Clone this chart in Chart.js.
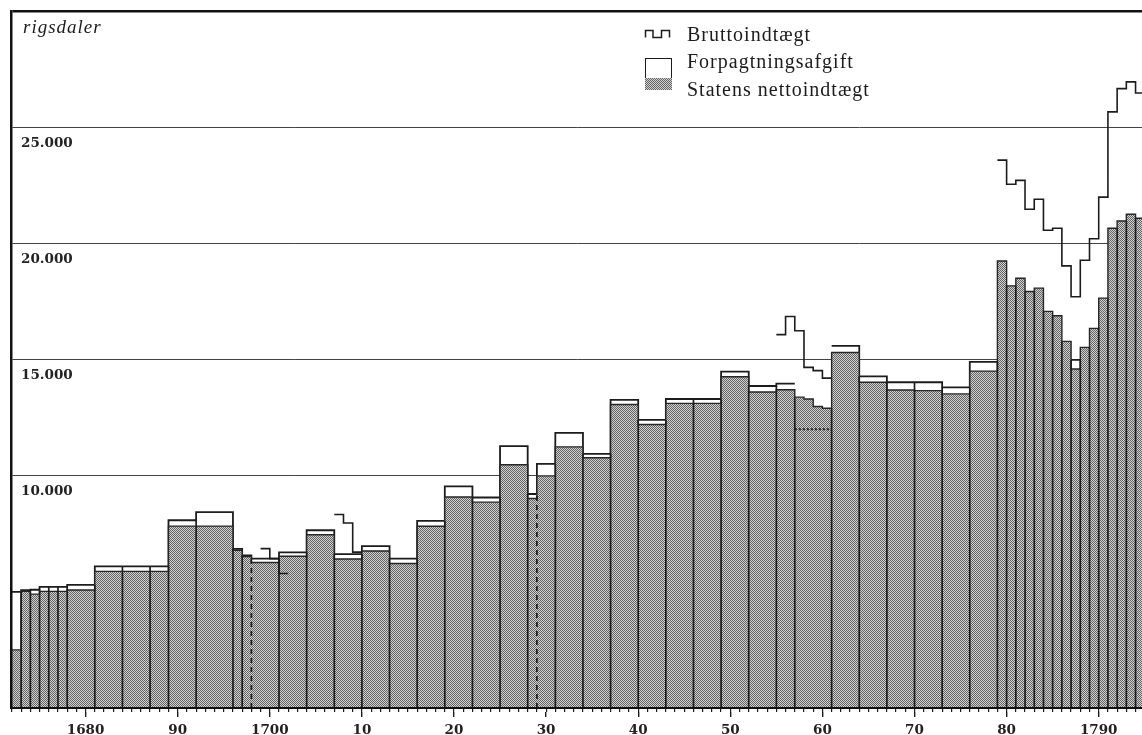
<!DOCTYPE html>
<html lang="da">
<head>
<meta charset="utf-8">
<title>Forpagtningsafgift og statens nettoindtægt</title>
<script src="https://cdn.jsdelivr.net/npm/chart.js@4.4.1/dist/chart.umd.min.js"></script>
<style>
  html, body { margin: 0; padding: 0; background: #fff; }
  #ramme { position: relative; width: 1142px; height: 735px; overflow: hidden; }
  #ramme canvas { position: absolute; left: 0; top: 0; }
  .tekst { position: absolute; font-family: "Liberation Serif", serif; color: #1c1c1c; line-height: 1; white-space: nowrap; }
  .leg { font-size: 20px; letter-spacing: 1px; left: 687px; }
  #enhed { left: 23px; top: 17px; font-size: 19px; font-style: italic; letter-spacing: 1px; }
  .boks { position: absolute; left: 645px; width: 27px; box-sizing: border-box; }
  #hvidBoks { top: 58px; height: 21px; border: 1.5px solid #1c1c1c; background: #fff; }
  #graaBoks { top: 78px; height: 12px; background: repeating-conic-gradient(#666 0 25%, #cfcfcf 0 50%) 0 0 / 2px 2px; }
  #trinTegn { position: absolute; left: 644px; top: 29px; }
</style>
</head>
<body>
<div id="ramme">
  <canvas id="diagram" width="1142" height="735"></canvas>
  <div class="tekst" id="enhed">rigsdaler</div>
  <svg id="trinTegn" width="28" height="10" viewBox="0 0 28 10">
    <path d="M1.5 8.5 V1.5 H9 V8.5 H17.5 V1.5 H25.5 V8.5" fill="none" stroke="#1c1c1c" stroke-width="1.5"/>
  </svg>
  <div class="tekst leg" style="top:24px">Bruttoindtægt</div>
  <div class="boks" id="hvidBoks"></div>
  <div class="boks" id="graaBoks"></div>
  <div class="tekst leg" style="top:51px">Forpagtningsafgift</div>
  <div class="tekst leg" style="top:79px">Statens nettoindtægt</div>
</div>
<script>
// perioder (startår); sidste periode slutter i periodeSlut
var periodeStart = [1672, 1673, 1674, 1675, 1676, 1677, 1678, 1681, 1684, 1687, 1689, 1692,
	1696, 1697, 1698, 1701, 1704, 1707, 1710, 1713, 1716, 1719, 1722, 1725,
	1728, 1729, 1731, 1734, 1737, 1740, 1743, 1746, 1749, 1752, 1755,
	1757, 1758, 1759, 1760, 1761, 1764, 1767, 1770, 1773, 1776,
	1779, 1780, 1781, 1782, 1783, 1784, 1785, 1786, 1787, 1788, 1789, 1790, 1791, 1792, 1793, 1794];
var periodeSlut = 1795;

// rigsdaler
var forpagtningsafgift = [5000, 5070, 5090, 5210, 5210, 5210, 5300, 6100, 6100, 6100, 8080, 8430,
	6850, 6570, 6430, 6700, 7650, 6620, 6970, 6430, 8050, 9540, 9060, 11270,
	9210, 10510, 11840, 10940, 13260, 12400, 13300, 13300, 14480, 13860, 13960,
	null, null, null, null, 15590, 14270, 14020, 14020, 13800, 14900,
	null, null, null, null, null, null, null, null, 14980, null, null, null, null, null, null, null];
var nettoindtaegt = [2500, 5020, 4900, 5020, 5020, 5020, 5080, 5880, 5880, 5880, 7830, 7830,
	6790, 6520, 6260, 6530, 7460, 6410, 6760, 6220, 7820, 9080, 8860, 10470,
	9020, 9990, 11240, 10770, 13060, 12200, 13110, 13110, 14260, 13600, 13700,
	13380, 13300, 12980, 12900, 15300, 14020, 13690, 13660, 13520, 14500,
	19240, 18170, 18500, 17930, 18070, 17070, 16880, 15780, 14590, 15520, 16340, 17640, 20650, 20960, 21250, 21080];

// bruttoindtægt, kun kendt for enkelte år
var bruttoAar = [1699, 1700, 1701, 1707, 1708, 1709, 1755, 1756, 1757, 1758, 1759, 1760,
	1779, 1780, 1781, 1782, 1783, 1784, 1785, 1786, 1787, 1788, 1789, 1790, 1791, 1792, 1793, 1794];
var bruttoindtaegt = [6860, 6430, 5790, 8330, 7960, 6710, 16070, 16850, 16240, 14660, 14520, 14200,
	23580, 22540, 22710, 21470, 21900, 20560, 20650, 19030, 17700, 19270, 20200, 21990, 25660, 26660, 26950, 26470];

// prikket linje i perioden 1757-61
var prikLinjeAar = [1757, 1761];
var prikLinjeVaerdi = 12000;

var stipledeSkel = [1698, 1729];
var udenSkel = [1758, 1759, 1760];

var aartiTicks = [1680, 1690, 1700, 1710, 1720, 1730, 1740, 1750, 1760, 1770, 1780, 1790];
var aartiEtiketter = ['1680', '90', '1700', '10', '20', '30', '40', '50', '60', '70', '80', '1790'];
var yTicks = [10000, 15000, 20000, 25000, 30000];

var xMin = 1671.9, xMax = 1794.7;

var periodeEnde = periodeStart.slice(1).concat([periodeSlut]);

function trinPunkter(starts, ends, values) {
	var pts = [];
	for (var i = 0; i < starts.length; i++) {
		if (values[i] == null) { pts.push({x: starts[i], y: null}); continue; }
		pts.push({x: starts[i], y: values[i]});
		pts.push({x: ends[i], y: values[i]});
		if (i + 1 < starts.length && starts[i + 1] !== ends[i]) pts.push({x: ends[i], y: null});
	}
	return pts;
}

function bjaelkeTop(i) {
	return forpagtningsafgift[i] != null ? forpagtningsafgift[i] : nettoindtaegt[i];
}

function skelLinjer(stiplet) {
	var pts = [];
	for (var i = 1; i < periodeStart.length; i++) {
		var b = periodeStart[i];
		if (udenSkel.indexOf(b) >= 0) continue;
		if ((stipledeSkel.indexOf(b) >= 0) !== stiplet) continue;
		var h = Math.min(bjaelkeTop(i - 1), bjaelkeTop(i));
		pts.push({x: b, y: 0}, {x: b, y: h}, {x: b, y: null});
	}
	return pts;
}

function tusind(v) {
	return String(v).replace(/\B(?=(\d{3})+(?!\d))/g, '.');
}

var ctx = document.getElementById('diagram').getContext('2d');

// graa raster til nettoindtaegten
var m = document.createElement('canvas');
m.width = 2; m.height = 2;
var mc = m.getContext('2d');
mc.fillStyle = '#cfcfcf'; mc.fillRect(0, 0, 2, 2);
mc.fillStyle = '#666666'; mc.fillRect(0, 0, 1, 1); mc.fillRect(1, 1, 1, 1);
var graa = ctx.createPattern(m, 'repeat');

var alleAar = [];
for (var a = 1672; a <= 1794; a++) alleAar.push(a);

var sort = '#1c1c1c';
var skrift = {family: 'DejaVu Serif', weight: 'bold', size: 13.5};

var chart = new Chart(ctx, {
	type: 'line',
	data: {
		datasets: [{
			label: 'Bruttoindtægt',
			data: trinPunkter(bruttoAar, bruttoAar.map(function (a) { return a + 1; }), bruttoindtaegt),
			borderColor: sort, borderWidth: 1.6, fill: false
		}, {
			label: 'skel',
			data: skelLinjer(false),
			borderColor: sort, borderWidth: 1.7, fill: false
		}, {
			label: 'skel stiplet',
			data: skelLinjer(true),
			borderColor: sort, borderWidth: 1.7, borderDash: [5, 4], fill: false
		}, {
			label: 'prikket',
			data: [{x: prikLinjeAar[0], y: prikLinjeVaerdi}, {x: prikLinjeAar[1], y: prikLinjeVaerdi}],
			borderColor: sort, borderWidth: 2, borderDash: [2, 2], fill: false
		}, {
			label: 'Statens nettoindtægt',
			data: trinPunkter(periodeStart, periodeEnde, nettoindtaegt),
			borderColor: '#262626', borderWidth: 1.4,
			backgroundColor: graa, fill: 'origin'
		}, {
			label: 'Forpagtningsafgift',
			data: trinPunkter(periodeStart, periodeEnde, forpagtningsafgift),
			borderColor: sort, borderWidth: 1.8,
			backgroundColor: '#ffffff', fill: 'origin'
		}]
	},
	options: {
		responsive: false,
		animation: false,
		events: [],
		spanGaps: false,
		layout: {padding: {left: 11, top: 11, right: 0, bottom: 0}},
		elements: {point: {radius: 0}, line: {tension: 0}},
		plugins: {legend: {display: false}, tooltip: {enabled: false}},
		scales: {
			x: {
				type: 'linear', min: xMin, max: xMax, position: 'bottom', weight: 1,
				afterBuildTicks: function (s) { s.ticks = aartiTicks.map(function (v) { return {value: v}; }); },
				afterFit: function (s) { s.height = 23; s.paddingLeft = 0; s.paddingRight = 0; },
				grid: {drawOnChartArea: false, tickLength: 5, color: sort, lineWidth: 1.4},
				border: {display: false},
				ticks: {
					padding: 5, color: '#222', font: skrift, maxRotation: 0, autoSkip: false,
					callback: function (v, i) { return aartiEtiketter[i]; }
				}
			},
			aar: {
				type: 'linear', min: xMin, max: xMax, position: 'bottom', weight: 0,
				afterBuildTicks: function (s) { s.ticks = alleAar.map(function (v) { return {value: v}; }); },
				afterFit: function (s) { s.height = 4; s.paddingLeft = 0; s.paddingRight = 0; },
				grid: {drawOnChartArea: false, tickLength: 4, color: sort, lineWidth: 1.2},
				border: {display: true, color: '#111', width: 2, z: 1},
				ticks: {display: false}
			},
			y: {
				min: 0, max: 30000,
				afterBuildTicks: function (s) { s.ticks = yTicks.map(function (v) { return {value: v}; }); },
				afterFit: function (s) { s.width = 0; s.paddingTop = 0; s.paddingBottom = 0; },
				grid: {
					drawTicks: false,
					color: function (c) { return c.tick && c.tick.value === 30000 ? '#111' : '#444'; },
					lineWidth: function (c) { return c.tick && c.tick.value === 30000 ? 2.5 : 1; }
				},
				border: {display: true, color: '#111', width: 2.5, z: 1},
				ticks: {
					mirror: true, padding: 10, labelOffset: 16, color: '#222', font: skrift,
					callback: function (v) { return v === 30000 ? '' : tusind(v); }
				}
			}
		}
	}
});
</script>
</body>
</html>
